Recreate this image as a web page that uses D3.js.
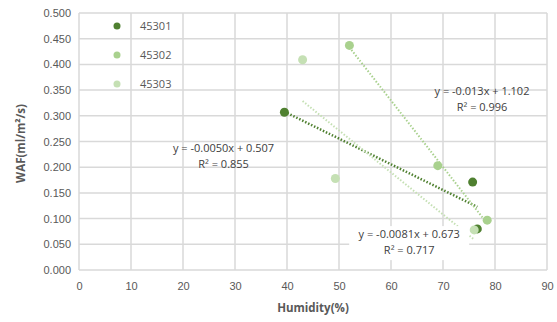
<!DOCTYPE html>
<html>
<head>
<meta charset="utf-8">
<script src="https://cdn.jsdelivr.net/npm/d3@7"></script>
<style>
  body { margin: 0; background: #fff; }
  svg { display: block; font-family: "Open Sans", "Noto Sans", sans-serif; }
</style>
</head>
<body>
<svg id="chart" width="557" height="322"></svg>
<script>
const seriesNames = ["45301", "45302", "45303"]
const seriesColors = ["#4f8030", "#a9d18e", "#c5e0b4"]
const humidity = [
  [39.5, 75.7, 76.6],
  [52, 69, 78.5],
  [43, 49.3, 76.0]
]
const waf = [
  [0.307, 0.171, 0.080],
  [0.437, 0.203, 0.097],
  [0.409, 0.178, 0.078]
]
const trendLabels = [
  ["y = -0.0050x + 0.507", "R\u00b2 = 0.855"],
  ["y = -0.013x + 1.102", "R\u00b2 = 0.996"],
  ["y = -0.0081x + 0.673", "R\u00b2 = 0.717"]
]
// where each equation label sits (data coords of its centre)
const labelAt = [[27.8, 0.23], [77.5, 0.34], [63.5, 0.062]]
const xTicks = d3.range(0, 91, 10)
const yTicks = d3.range(0, 0.5001, 0.05)

const margin = {left: 79, top: 13, right: 10, bottom: 52}
const width = 557, height = 322
const svg = d3.select("#chart")

const x = d3.scaleLinear().domain([0, 90]).range([margin.left, width - margin.right])
const y = d3.scaleLinear().domain([0, 0.5]).range([height - margin.bottom, margin.top])

// gridlines
svg.append("g").selectAll("line").data(xTicks).join("line")
  .attr("x1", d => x(d)).attr("x2", d => x(d))
  .attr("y1", y(0)).attr("y2", y(0.5))
  .attr("stroke", "#d9d9d9").attr("stroke-width", 1.5)
svg.append("g").selectAll("line").data(yTicks).join("line")
  .attr("x1", x(0)).attr("x2", x(90))
  .attr("y1", d => y(d)).attr("y2", d => y(d))
  .attr("stroke", "#d9d9d9").attr("stroke-width", 1.5)

// axes (tick labels only)
const xAxis = svg.append("g")
  .attr("transform", `translate(0,${y(0)})`)
  .call(d3.axisBottom(x).tickValues(xTicks).tickSize(0).tickPadding(12))
const yAxis = svg.append("g")
  .attr("transform", `translate(${x(0)},0)`)
  .call(d3.axisLeft(y).tickValues(yTicks).tickFormat(d3.format(".3f")).tickSize(0).tickPadding(8))
for (const g of [xAxis, yAxis]) {
  g.select(".domain").remove()
  g.selectAll("text").attr("fill", "#595959").attr("font-size", 11)
}

svg.append("text")
  .attr("x", (x(0) + x(90)) / 2).attr("y", 312)
  .attr("text-anchor", "middle").attr("font-size", 11.5).attr("font-weight", "bold")
  .attr("fill", "#595959").text("Humidity(%)")
svg.append("text")
  .attr("transform", `translate(25,${(y(0) + y(0.5)) / 2 + 2}) rotate(-90)`)
  .attr("text-anchor", "middle").attr("font-size", 11.5).attr("font-weight", "bold")
  .attr("fill", "#595959").text("WAF(ml/m\u00b2/s)")

// trend lines (least squares over each series)
seriesNames.forEach((name, i) => {
  const xs = humidity[i], ys = waf[i]
  const mx = d3.mean(xs), my = d3.mean(ys)
  const slope = d3.sum(xs, (v, k) => (v - mx) * (ys[k] - my)) / d3.sum(xs, v => (v - mx) ** 2)
  const icpt = my - slope * mx
  const [x0, x1] = d3.extent(xs)
  svg.append("line")
    .attr("x1", x(x0)).attr("y1", y(slope * x0 + icpt))
    .attr("x2", x(x1)).attr("y2", y(slope * x1 + icpt))
    .attr("stroke", seriesColors[i]).attr("stroke-width", i === 0 ? 2.5 : 2)
    .attr("stroke-dasharray", "1.5,1.8")
})

// points
seriesNames.forEach((name, i) => {
  svg.append("g").selectAll("circle")
    .data(humidity[i].map((h, k) => [h, waf[i][k]]))
    .join("circle")
    .attr("cx", d => x(d[0])).attr("cy", d => y(d[1]))
    .attr("r", 4.5).attr("fill", seriesColors[i])
})

// equation labels
trendLabels.forEach((lines, i) => {
  const cx = x(labelAt[i][0]), cy = y(labelAt[i][1])
  const g = svg.append("g")
  if (i === 2) {
    g.append("rect").attr("x", cx - 60).attr("y", cy - 12).attr("width", 120).attr("height", 34).attr("fill", "#fff")
  }
  lines.forEach((t, k) => {
    g.append("text").attr("x", cx).attr("y", cy + k * 16)
      .attr("text-anchor", "middle").attr("font-size", 11).attr("fill", "#404040").text(t)
  })
})

// legend
const legend = svg.append("g")
seriesNames.forEach((name, i) => {
  const ly = 26 + i * 29
  legend.append("circle").attr("cx", 117).attr("cy", ly).attr("r", 3.5).attr("fill", seriesColors[i])
  legend.append("text").attr("x", 140).attr("y", ly + 4)
    .attr("font-size", 11).attr("fill", "#595959").text(name)
})
</script>
</body>
</html>
